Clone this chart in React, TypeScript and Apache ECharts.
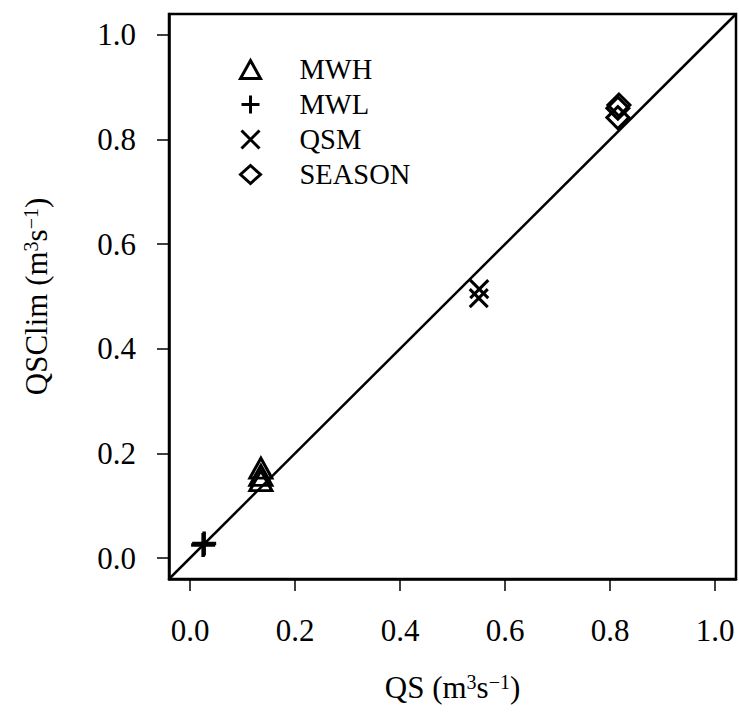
import React, { useEffect, useRef } from "react";
import * as echarts from "echarts";

const tickValues = [0, 0.2, 0.4, 0.6, 0.8, 1.0];
const axisRange = [-0.04, 1.04];
const mwh: number[][] = [[0.135, 0.148], [0.135, 0.158], [0.135, 0.172]];
const mwl: number[][] = [[0.025, 0.025], [0.027, 0.028]];
const qsm: number[][] = [[0.55, 0.497], [0.551, 0.514]];
const season: number[][] = [[0.815, 0.842], [0.815, 0.86], [0.817, 0.866]];
const oneToOne: number[][] = [[axisRange[0], axisRange[0]], [axisRange[1], axisRange[1]]];

const FONT = "Liberation Serif";

const plusPath = "path://M0,10 L20,10 M10,0 L10,20";
const crossPath = "path://M0,0 L20,20 M20,0 L0,20";

export default function App() {
  const ref = useRef<HTMLDivElement>(null);
  useEffect(() => {
    if (!ref.current) return;
    const chart = echarts.init(ref.current, null, { renderer: "svg" });
    const stroke = { color: "transparent", borderColor: "#000", borderWidth: 3, opacity: 1 };
    const richName = {
      n: { fontSize: 31, fontFamily: FONT, color: "#000" },
      s: { fontSize: 20, fontFamily: FONT, color: "#000", verticalAlign: "top" as const },
    };
    const axisCommon = {
      type: "value" as const,
      min: axisRange[0],
      max: axisRange[1],
      splitLine: { show: false },
      axisLine: { show: true, onZero: false, lineStyle: { color: "#000", width: 2.5 } },
      axisTick: { show: true, inside: false, length: 12, lineStyle: { color: "#000", width: 1.5 }, customValues: tickValues },
      nameLocation: "middle" as const,
    };
    const labelStyle = { fontSize: 31, fontFamily: FONT, color: "#000", customValues: tickValues, formatter: (v: number) => v.toFixed(1) };
    chart.setOption({
      animation: false,
      backgroundColor: "#fff",
      grid: { left: 169, right: 3, top: 14, bottom: 133, show: true, borderColor: "#000", borderWidth: 2.5 },
      legend: {
        orient: "vertical",
        left: 234,
        top: 50,
        itemWidth: 20,
        itemHeight: 18,
        itemGap: 6,
        itemStyle: { borderWidth: 3, opacity: 1 },
        textStyle: { fontSize: 28.5, fontFamily: FONT, color: "#000", padding: [0, 0, 0, 34] },
        data: ["MWH", "MWL", "QSM", "SEASON"],
      },
      xAxis: {
        ...axisCommon,
        name: "{n|QS (m}{s|3}{n|s}{s|−1}{n|)}",
        nameGap: 93,
        nameTextStyle: { rich: richName },
        axisLabel: { ...labelStyle, margin: 36 },
      },
      yAxis: {
        ...axisCommon,
        name: "{n|QSClim (m}{s|3}{n|s}{s|−1}{n|)}",
        nameGap: 117,
        nameTextStyle: { rich: richName },
        axisLabel: { ...labelStyle, margin: 33 },
      },
      series: [
        { name: "1:1", type: "line", data: oneToOne, symbol: "none", lineStyle: { color: "#000", width: 2.5 }, silent: true },
        { name: "MWH", type: "scatter", data: mwh, symbol: "triangle", symbolSize: [22, 20], itemStyle: stroke },
        { name: "MWL", type: "scatter", data: mwl, symbol: plusPath, symbolSize: 24, itemStyle: { ...stroke, borderWidth: 3.5 } },
        { name: "QSM", type: "scatter", data: qsm, symbol: crossPath, symbolSize: 18, itemStyle: { ...stroke, borderWidth: 3 } },
        { name: "SEASON", type: "scatter", data: season, symbol: "diamond", symbolSize: [22, 22], itemStyle: stroke },
      ],
    });
    return () => chart.dispose();
  }, []);
  return <div ref={ref} style={{ position: "absolute", left: 0, top: 0, width: 739, height: 712 }} />;
}
